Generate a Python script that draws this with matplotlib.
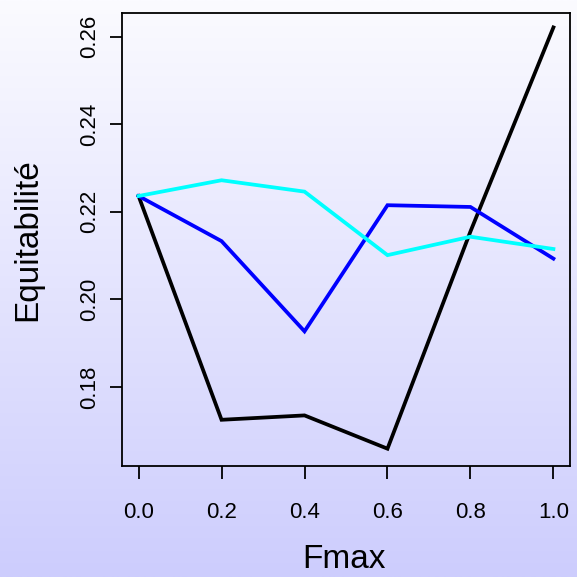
"""Equitabilite en fonction de Fmax, trois scenarios."""

import matplotlib
matplotlib.use("Agg")
import matplotlib.pyplot as plt
import numpy as np
from matplotlib.colors import LinearSegmentedColormap

plt.rcParams["font.family"] = ["Liberation Sans", "DejaVu Sans"]

fmax = [0.0, 0.2, 0.4, 0.6, 0.8, 1.0]
equit_noir = [0.2236, 0.1725, 0.1735, 0.1659, 0.2155, 0.2621]
equit_bleu = [0.2236, 0.2133, 0.1927, 0.2215, 0.2211, 0.2093]
equit_cyan = [0.2236, 0.2272, 0.2246, 0.2101, 0.2143, 0.2115]

x_ticks = [0.0, 0.2, 0.4, 0.6, 0.8, 1.0]
y_ticks = [0.18, 0.20, 0.22, 0.24, 0.26]

fig = plt.figure(figsize=(5.77, 5.77), dpi=100)

# fond en degrade vertical (blanc en haut, lavande en bas)
bg = fig.add_axes([0, 0, 1, 1], zorder=0)
cmap = LinearSegmentedColormap.from_list("fond", ["#FBFBFF", "#CDCDFD"])
bg.imshow(np.linspace(0, 1, 256).reshape(-1, 1), cmap=cmap, aspect="auto",
          extent=[0, 1, 0, 1])
bg.set_axis_off()

ax = fig.add_axes([0.2114, 0.1924, 0.7765, 0.7859], zorder=1)
ax.patch.set_alpha(0)

for serie, couleur in [(equit_noir, "black"), (equit_bleu, "#0000FF"),
                       (equit_cyan, "#00FFFF")]:
    ax.plot(fmax, serie, color=couleur, linewidth=2.7, solid_joinstyle="miter")

ax.set_xlim(-0.04, 1.04)
ax.set_ylim(0.16195, 0.26550)
ax.set_xticks(x_ticks)
ax.set_xticklabels([f"{v:.1f}" for v in x_ticks])
ax.set_yticks(y_ticks)
ax.set_yticklabels([f"{v:.2f}" for v in y_ticks], rotation=90, va="center")

for s in ax.spines.values():
    s.set_linewidth(1.3)
ax.tick_params(axis="x", length=9, width=1.3, pad=17, labelsize=16)
ax.tick_params(axis="y", length=9, width=1.3, pad=7, labelsize=16)

ax.set_xlabel("Fmax", fontsize=24, va="center")
ax.set_ylabel("Equitabilité", fontsize=24, va="center")
ax.xaxis.set_label_coords(0.495, -0.207)
ax.yaxis.set_label_coords(-0.21, 0.5)

fig.savefig("out.png", dpi=100)
